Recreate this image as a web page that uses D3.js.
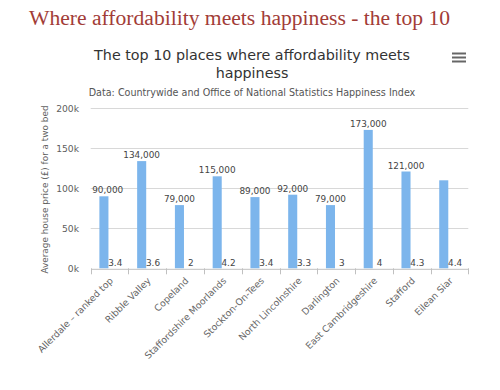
<!DOCTYPE html>
<html>
<head>
<meta charset="utf-8">
<script src="https://cdn.jsdelivr.net/npm/d3@7"></script>
<style>
  html, body { margin: 0; padding: 0; background: #ffffff; }
  svg { display: block; }
</style>
</head>
<body>
<svg id="chart" width="500" height="390"></svg>
<script>
const pageTitle = "Where affordability meets happiness - the top 10";
const chartTitleLines = ["The top 10 places where affordability meets", "happiness"];
const subtitle = "Data: Countrywide and Office of National Statistics Happiness Index";
const yAxisTitle = "Average house price (£) for a two bed";
const categories = ["Allerdale – ranked top", "Ribble Valley", "Copeland", "Staffordshire Moorlands",
  "Stockton-On-Tees", "North Lincolnshire", "Darlington", "East Cambridgeshire", "Stafford", "Eilean Siar"];
const prices = [90000, 134000, 79000, 115000, 89000, 92000, 79000, 173000, 121000, 110000];
const happiness = [3.4, 3.6, 2, 4.2, 3.4, 3.3, 3, 4, 4.3, 4.4];
const priceLabelShown = [true, true, true, true, true, true, true, true, true, false];
const yTicks = [0, 50000, 100000, 150000, 200000];
const yTickLabels = ["0k", "50k", "100k", "150k", "200k"];
const seriesKeys = ["price", "happiness"];

const svg = d3.select("#chart");
const font = "'DejaVu Sans', Verdana, sans-serif";

const plot = { left: 90.7, right: 468.3, top: 108.3, bottom: 268.3 };

const x = d3.scaleBand().domain(categories).range([plot.left, plot.right]).paddingInner(0).paddingOuter(0);
const xs = d3.scaleBand().domain(seriesKeys).range([0, x.bandwidth()]).paddingInner(0.2).paddingOuter(0.7667);
const y = d3.scaleLinear().domain([0, 200000]).range([plot.bottom, plot.top]);

// Page title
svg.append("text")
  .attr("x", 29).attr("y", 25)
  .attr("font-family", "'Liberation Serif', 'Times New Roman', serif")
  .attr("font-size", 21.6)
  .attr("fill", "#a23c37")
  .text(pageTitle);

// Chart title
svg.append("text")
  .attr("x", 252).attr("y", 60)
  .attr("text-anchor", "middle")
  .attr("font-family", font).attr("font-size", 14.3)
  .attr("fill", "#333333")
  .selectAll("tspan").data(chartTitleLines).join("tspan")
  .attr("x", 252).attr("dy", (d, i) => i === 0 ? 0 : 17.5)
  .text(d => d);

// Subtitle
svg.append("text")
  .attr("x", 252).attr("y", 96)
  .attr("text-anchor", "middle")
  .attr("font-family", font).attr("font-size", 9.6)
  .attr("fill", "#555555")
  .text(subtitle);

// Menu icon
svg.append("g").selectAll("line").data([0, 1, 2]).join("line")
  .attr("x1", 452).attr("x2", 466)
  .attr("y1", d => 53.5 + d * 4).attr("y2", d => 53.5 + d * 4)
  .attr("stroke", "#666666").attr("stroke-width", 2);

// Gridlines
svg.append("g").selectAll("line").data(yTicks.filter(t => t > 0)).join("line")
  .attr("x1", plot.left).attr("x2", plot.right)
  .attr("y1", d => Math.round(y(d)) + 0.5).attr("y2", d => Math.round(y(d)) + 0.5)
  .attr("stroke", "#d8d8d8").attr("stroke-width", 1);

// Y axis labels
const yAxis = d3.axisLeft(y).tickValues(yTicks).tickFormat((d, i) => yTickLabels[i]).tickSize(0).tickPadding(0);
const yg = svg.append("g").attr("transform", "translate(79,0)").call(yAxis);
yg.select(".domain").remove();
yg.selectAll("text").attr("font-family", font).attr("font-size", 9.2).attr("fill", "#606060");

// Y axis title
svg.append("text")
  .attr("transform", "translate(48,189.5) rotate(-90)")
  .attr("text-anchor", "middle")
  .attr("font-family", font).attr("font-size", 8.9)
  .attr("fill", "#606060")
  .text(yAxisTitle);

// Bars
const groups = svg.append("g").selectAll("g").data(categories).join("g")
  .attr("transform", d => `translate(${x(d)},0)`);

groups.append("rect")
  .attr("x", (d, i) => xs("price"))
  .attr("width", xs.bandwidth())
  .attr("y", (d, i) => y(prices[i]))
  .attr("height", (d, i) => y(0) - y(prices[i]))
  .attr("fill", "#7cb5ec");

groups.append("rect")
  .attr("x", xs("happiness"))
  .attr("width", xs.bandwidth())
  .attr("y", (d, i) => y(happiness[i]))
  .attr("height", (d, i) => Math.max(0, y(0) - y(happiness[i])))
  .attr("fill", "#434348");

// X axis
const xAxis = d3.axisBottom(x).tickSize(0).tickFormat("");
const xg = svg.append("g").attr("transform", `translate(0,${plot.bottom + 0.5})`).call(xAxis);
xg.select(".domain").attr("stroke", "#c0c0c0");
xg.selectAll(".tick").remove();
const boundaries = categories.map(c => x(c)).concat([x(categories[categories.length - 1]) + x.bandwidth()]);
svg.append("g").selectAll("line").data(boundaries).join("line")
  .attr("x1", d => Math.round(d) + 0.5).attr("x2", d => Math.round(d) + 0.5)
  .attr("y1", plot.bottom).attr("y2", plot.bottom + 6)
  .attr("stroke", "#c0c0c0");

// X labels
svg.append("g").selectAll("text").data(categories).join("text")
  .attr("transform", d => `translate(${x(d) + x.bandwidth() / 2 + 4},${plot.bottom + 13}) rotate(-45)`)
  .attr("text-anchor", "end")
  .attr("font-family", font).attr("font-size", 9.3)
  .attr("fill", "#666666")
  .text(d => d);

// Data labels: prices
const priceLabels = svg.append("g").selectAll("text").data(categories.filter((d, i) => priceLabelShown[i])).join("text")
  .attr("font-family", font).attr("font-size", 8.9)
  .attr("fill", "#444444")
  .attr("text-anchor", "middle")
  .attr("y", d => y(prices[categories.indexOf(d)]) - 3)
  .text(d => d3.format(",")(prices[categories.indexOf(d)]));
priceLabels.each(function (d) {
  const w = this.getComputedTextLength();
  let cx = x(d) + xs("price") + xs.bandwidth() / 2;
  if (cx - w / 2 < plot.left + 1.5) cx = plot.left + 1.5 + w / 2;
  d3.select(this).attr("x", cx);
});

// Data labels: happiness
svg.append("g").selectAll("text").data(categories).join("text")
  .attr("font-family", font).attr("font-size", 8.9)
  .attr("fill", "#444444")
  .attr("text-anchor", "middle")
  .attr("x", d => x(d) + xs("happiness") + xs.bandwidth() / 2)
  .attr("y", (d, i) => y(happiness[i]) - 2)
  .text((d, i) => happiness[i]);
</script>
</body>
</html>
